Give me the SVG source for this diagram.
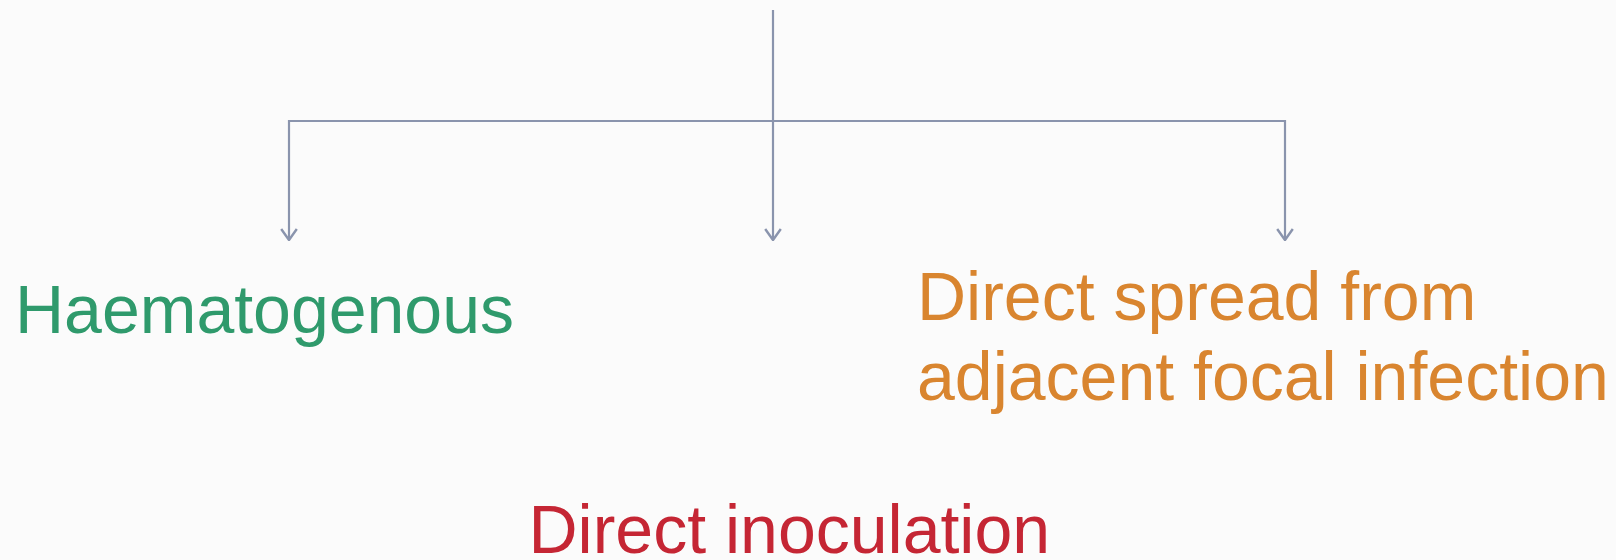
<svg xmlns="http://www.w3.org/2000/svg" width="1616" height="560" viewBox="0 0 1616 560">
  <defs>
    <marker id="arr" viewBox="0 0 13 18" refX="12" refY="9" markerWidth="13" markerHeight="18" markerUnits="userSpaceOnUse" orient="auto">
      <path d="M1,1.2 L12,9 L1,16.8" fill="none" stroke="#8a94ad" stroke-width="2.4" stroke-linejoin="round"/>
    </marker>
  </defs>
  <style>
    .conn { stroke: #8a94ad; stroke-width: 2.2; fill: none; }
    .lbl { font-family: "Liberation Sans", Arial, sans-serif; font-size: 68px; }
    .green { fill: #2f9a6c; }
    .orange { fill: #d9852f; }
    .red { fill: #c52634; }
  </style>
  <rect width="1616" height="560" fill="#fbfbfb"/>
  <g id="connectors">
    <path class="conn" d="M773,10 L773,240" marker-end="url(#arr)"/>
    <path class="conn" d="M288,121 L1285,121"/>
    <path class="conn" d="M289,120 L289,240" marker-end="url(#arr)"/>
    <path class="conn" d="M1285,120 L1285,240" marker-end="url(#arr)"/>
  </g>
  <g id="node-haematogenous">
    <text class="lbl green" x="15" y="333">Haematogenous</text>
  </g>
  <g id="node-direct-spread">
    <text class="lbl orange" x="917" y="319.5">Direct spread from</text>
    <text class="lbl orange" x="917" y="400">adjacent focal infection</text>
  </g>
  <g id="node-direct-inoculation">
    <text class="lbl red" x="528.5" y="553">Direct inoculation</text>
  </g>
</svg>
